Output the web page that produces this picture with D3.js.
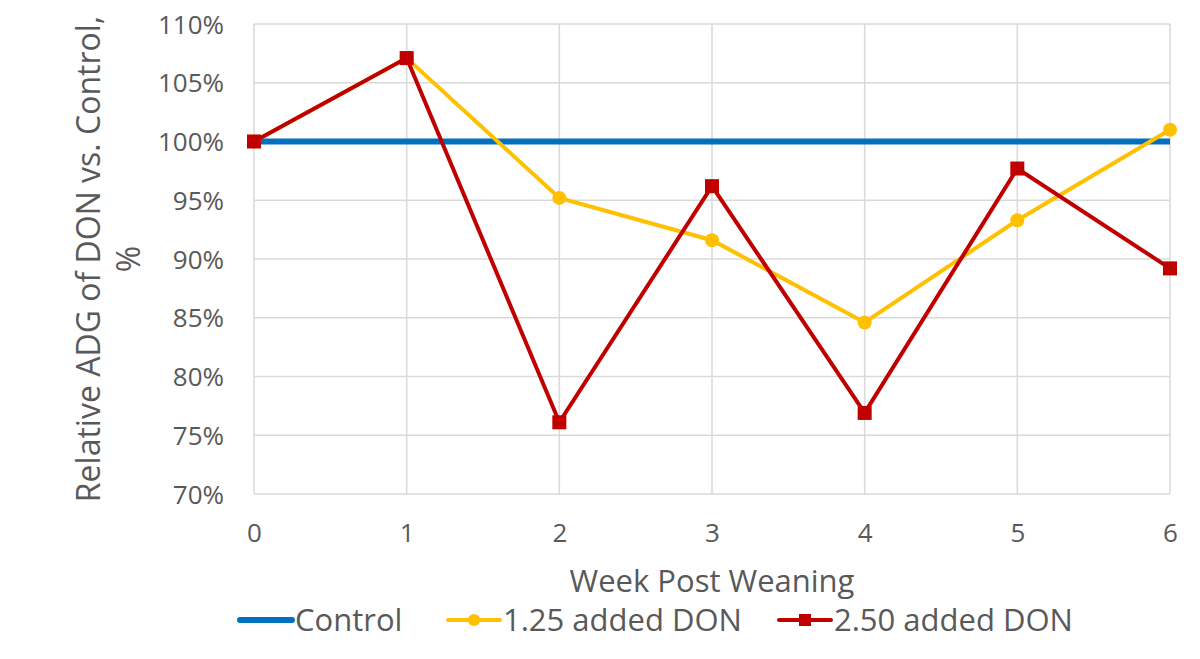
<!DOCTYPE html>
<html>
<head>
<meta charset="utf-8">
<script src="https://cdn.jsdelivr.net/npm/d3@7"></script>
<style>
  body { margin: 0; background: #fff; }
  svg, svg text { font-family: 'Open Sans', sans-serif; }
</style>
</head>
<body>
<svg id="chart"></svg>
<script>
const weeks = [0, 1, 2, 3, 4, 5, 6]
const control = [100, 100, 100, 100, 100, 100, 100]
const don125 = [100, 107.1, 95.2, 91.6, 84.6, 93.3, 101.0]
const don250 = [100, 107.1, 76.1, 96.2, 76.9, 97.7, 89.2]
const yTicks = [70, 75, 80, 85, 90, 95, 100, 105, 110]

const width = 1200
const height = 659
const margin = { top: 24, right: 30, bottom: 165, left: 254 }
const font = "'Open Sans', sans-serif"

const svg = d3.select('#chart').attr('width', width).attr('height', height)

const x = d3.scaleLinear().domain([0, 6]).range([margin.left, width - margin.right])
const y = d3.scaleLinear().domain([70, 110]).range([height - margin.bottom, margin.top])

// grid
svg.append('g')
  .selectAll('line')
  .data(yTicks)
  .join('line')
  .attr('x1', x(0)).attr('x2', x(6))
  .attr('y1', d => y(d)).attr('y2', d => y(d))
  .attr('stroke', '#d9d9d9').attr('stroke-width', 1.5)

svg.append('g')
  .selectAll('line')
  .data(weeks)
  .join('line')
  .attr('x1', d => x(d)).attr('x2', d => x(d))
  .attr('y1', y(70)).attr('y2', y(110))
  .attr('stroke', '#d9d9d9').attr('stroke-width', 1.5)

// axes
const yAxis = svg.append('g')
  .attr('transform', `translate(${x(0)},0)`)
  .call(d3.axisLeft(y).tickValues(yTicks).tickSize(0).tickPadding(30).tickFormat(d => d + '%'))
  .attr('font-family', font)
yAxis.select('.domain').remove()
yAxis.selectAll('text').attr('font-size', 26).attr('fill', '#595959').attr('dy', '0.35em')

const xAxis = svg.append('g')
  .attr('transform', `translate(0,${y(70)})`)
  .call(d3.axisBottom(x).tickValues(weeks).tickSize(0).tickPadding(30).tickFormat(d3.format('d')))
  .attr('font-family', font)
xAxis.select('.domain').remove()
xAxis.selectAll('text').attr('font-size', 26).attr('fill', '#595959')

// axis titles
svg.append('text')
  .attr('transform', `translate(${(x(0) + x(6)) / 2},592)`)
  .attr('text-anchor', 'middle')
  .attr('font-size', 31).attr('fill', '#595959')
  .text('Week Post Weaning')

const yt = svg.append('text')
  .attr('transform', `translate(100,${(y(70) + y(110)) / 2}) rotate(-90)`)
  .attr('text-anchor', 'middle')
  .attr('font-size', 32).attr('fill', '#595959')
yt.append('tspan').attr('x', 0).attr('dy', 0).text('Relative ADG of DON vs. Control,')
yt.append('tspan').attr('x', 0).attr('dy', 40).text('%')

// series
const line = d3.line().x((d, i) => x(weeks[i])).y(d => y(d))

svg.append('path')
  .datum(control)
  .attr('d', line)
  .attr('fill', 'none').attr('stroke', '#0070c0').attr('stroke-width', 6)

svg.append('path')
  .datum(don125)
  .attr('d', line)
  .attr('fill', 'none').attr('stroke', '#ffc000').attr('stroke-width', 4)

svg.append('path')
  .datum(don250)
  .attr('d', line)
  .attr('fill', 'none').attr('stroke', '#c00000').attr('stroke-width', 4)

svg.append('g')
  .selectAll('circle')
  .data(don125)
  .join('circle')
  .attr('cx', (d, i) => x(weeks[i])).attr('cy', d => y(d))
  .attr('r', 7).attr('fill', '#ffc000')

svg.append('g')
  .selectAll('rect')
  .data(don250)
  .join('rect')
  .attr('x', (d, i) => x(weeks[i]) - 7).attr('y', d => y(d) - 7)
  .attr('width', 14).attr('height', 14).attr('fill', '#c00000')

// legend
const legendItems = [
  { name: 'Control', color: '#0070c0', marker: null, x: 240 },
  { name: '1.25 added DON', color: '#ffc000', marker: 'circle', x: 448 },
  { name: '2.50 added DON', color: '#c00000', marker: 'rect', x: 779 }
]
const ly = 620
const lg = svg.append('g')
legendItems.forEach(item => {
  const g = lg.append('g').attr('transform', `translate(${item.x},${ly})`)
  g.append('line').attr('x1', 0).attr('x2', 52).attr('y1', 0).attr('y2', 0)
    .attr('stroke', item.color).attr('stroke-width', item.marker ? 4 : 6)
    .attr('stroke-linecap', 'round')
  if (item.marker === 'circle') {
    g.append('circle').attr('cx', 26).attr('cy', 0).attr('r', 6).attr('fill', item.color)
  } else if (item.marker === 'rect') {
    g.append('rect').attr('x', 20).attr('y', -6).attr('width', 12).attr('height', 12).attr('fill', item.color)
  }
  g.append('text').attr('x', 55).attr('y', 0).attr('dy', '0.35em')
    .attr('font-size', 31).attr('fill', '#595959').text(item.name)
})
</script>
</body>
</html>
